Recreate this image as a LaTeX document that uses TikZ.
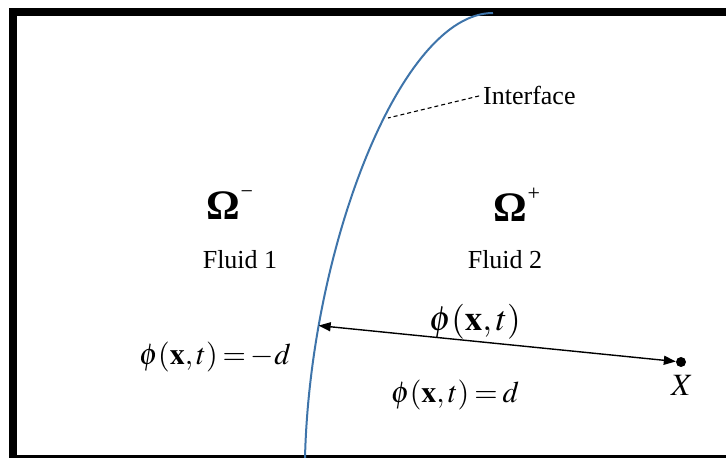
\documentclass[tikz,border=0pt]{standalone}
\usepackage{mathptmx}
\usepackage[no-math]{fontspec}
\setmainfont{Liberation Serif}
\usetikzlibrary{arrows.meta}
\definecolor{azulinterfaz}{RGB}{62,116,170}
\tikzset{
  etiqueta/.style={font=\fontsize{26}{30}\selectfont, inner sep=0pt},
  formula/.style={font=\fontsize{30}{36}\selectfont, inner sep=0pt, execute at begin node={\thickmuskip=3mu\relax}},
  dominio/.style={font=\fontsize{42}{46}\selectfont\bfseries, inner sep=0pt},
  borde/.style={line width=8pt, line join=miter},
  flecha/.style={line width=1.4pt, {Triangle[length=12pt,width=9pt]}-{Triangle[length=12pt,width=9pt]}}
}
\begin{document}
\begin{tikzpicture}[x=1pt,y=1pt]
				\useasboundingbox (0,0) rectangle (726,458);
				% Marco del dominio
				\draw[borde] (13,0) -- (13,446) -- (726,446);
				\draw[line width=3pt] (9,1.5) -- (726,1.5);
				
				% Interfaz entre los dos fluidos
				\draw[azulinterfaz, line width=2pt] (305,0) .. controls (310,208) and (400,445) .. (493,445)
					coordinate[pos=0.21] (pie);
				\coordinate (toque) at (388,340);
				\node[etiqueta, anchor=west] (interfaz) at (483,363) {Interface};
				\draw[dashed, dash pattern=on 4pt off 3pt, line width=1.1pt, shorten <=4pt] (interfaz.west) -- (toque);
				
				% Dominios y fluidos
				\node[dominio] (omegamenos) at (230,253) {Ω\raisebox{0.5em}{\fontsize{22}{24}\selectfont\mdseries −}};
				\node[dominio] (omegamas) at (517,253) {Ω\raisebox{0.5em}{\fontsize{22}{24}\selectfont\mdseries +}};
				\node[etiqueta] (fluido1) at (240,198) {Fluid 1};
				\node[etiqueta] (fluido2) at (505,198) {Fluid 2};
				
				% Distancia con signo hasta el punto X
				\node[circle, fill, inner sep=0pt, minimum size=10pt] (punto) at (681,96) {};
				\node[formula, font=\fontsize{31}{36}\selectfont] (equis) at (682,73) {$X$};
				\draw[flecha] (pie) -- (punto);
				\node[formula, font=\fontsize{35}{40}\selectfont] (distancia) at (475,136) {$\phi(\mathbf{x},t)$};
				\node[formula] (valormenos) at (215,101) {$\phi(\mathbf{x},t)=-d$};
				\node[formula] (valormas) at (455,63) {$\phi(\mathbf{x},t)=d$};
			\end{tikzpicture}
\end{document}
